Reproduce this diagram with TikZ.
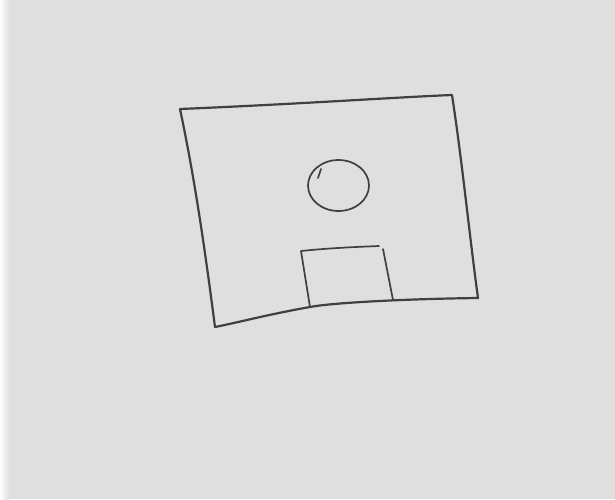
\documentclass[tikz,border=0pt]{standalone}
\begin{document}
\begin{tikzpicture}[x=1pt,y=-1pt,
  pen/.style={draw=black!75, line width=2.2pt, line cap=round, line join=round},
  thinpen/.style={draw=black!75, line width=1.7pt, line cap=round, line join=round}]
\definecolor{paper}{RGB}{223,223,223}
\useasboundingbox (0,0) rectangle (615,499);
\fill[paper] (0,0) rectangle (615,499);
\shade[left color=white, right color=paper] (0,0) rectangle (9,499);
% outer quadrilateral
\draw[pen] (180,109) .. controls (300,104) and (400,97) .. (452,95)
  .. controls (462,160) and (470,240) .. (478,298)
  .. controls (400,299) and (330,303) .. (310,307)
  .. controls (270,314) and (240,322) .. (215,327)
  .. controls (205,250) and (195,180) .. (180,109);
% circle
\draw[thinpen] (338.5,185.5) ellipse [x radius=30.5, y radius=25.5];
\draw[thinpen] (318,178) -- (321,169);
% small rectangle (door)
\draw[thinpen] (310,307) -- (301,251) .. controls (330,248) and (355,247) .. (379,246);
\draw[thinpen] (383,249) -- (393,300);
\end{tikzpicture}
\end{document}
